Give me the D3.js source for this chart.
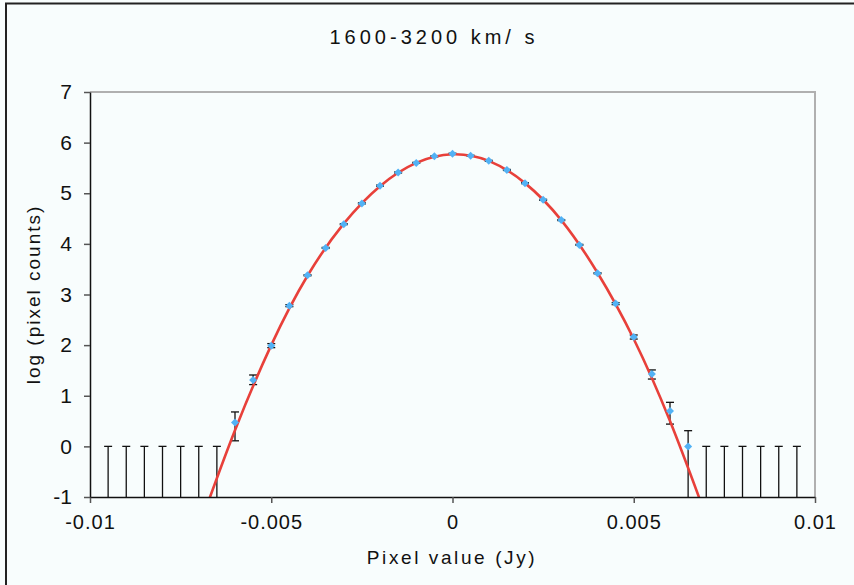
<!DOCTYPE html>
<html>
<head>
<meta charset="utf-8">
<script src="https://cdn.jsdelivr.net/npm/d3@7"></script>
<style>
  body { margin: 0; background: #f8fdfd; }
  text { font-family: "Liberation Sans", Arial, sans-serif; fill: #111; }
</style>
</head>
<body>
<div id="chart"></div>
<script>
// measured bins (pixel value, Jy) and log10 counts
var binX = [-0.006, -0.0055, -0.005, -0.0045, -0.004, -0.0035, -0.003, -0.0025, -0.002, -0.0015, -0.001, -0.0005,
  0, 0.0005, 0.001, 0.0015, 0.002, 0.0025, 0.003, 0.0035, 0.004, 0.0045, 0.005, 0.0055, 0.006, 0.0065];
var logCounts = [0.47, 1.31, 1.99, 2.78, 3.38, 3.92, 4.39, 4.80, 5.15, 5.41, 5.60, 5.73,
  5.78, 5.74, 5.64, 5.46, 5.20, 4.87, 4.47, 3.98, 3.42, 2.82, 2.16, 1.43, 0.70, 0.00];
var errUp = [0.21, 0.10, 0.04, 0.02, 0.01, 0.01, 0.01, 0.01, 0.01, 0.01, 0.01, 0.01,
  0.01, 0.01, 0.01, 0.01, 0.01, 0.01, 0.01, 0.01, 0.01, 0.02, 0.04, 0.08, 0.17, 0.31];
var errDown = [0.36, 0.09, 0.04, 0.02, 0.01, 0.01, 0.01, 0.01, 0.01, 0.01, 0.01, 0.01,
  0.01, 0.01, 0.01, 0.01, 0.01, 0.01, 0.01, 0.01, 0.01, 0.02, 0.04, 0.10, 0.26, 3];

// empty bins: only an error bar hanging down from log(1) = 0
var emptyX = [-0.0095, -0.009, -0.0085, -0.008, -0.0075, -0.007, -0.0065,
  0.007, 0.0075, 0.008, 0.0085, 0.009, 0.0095];

// gaussian fit
var fitX = [-0.0068, -0.006, -0.005, -0.004, -0.003, -0.002, -0.001, 0, 0.001, 0.002, 0.003, 0.004, 0.005, 0.006, 0.0069];
var fitY = [-1.22, 0.32, 2.0, 3.37, 4.4, 5.14, 5.6, 5.77, 5.64, 5.2, 4.47, 3.43, 2.12, 0.5, -1.2];

var xTicks = [-0.01, -0.005, 0, 0.005, 0.01];
var yTicks = [-1, 0, 1, 2, 3, 4, 5, 6, 7];

var width = 854, height = 585;
var plot = { left: 90, right: 815, top: 92, bottom: 497 };

var svg = d3.select('#chart').append('svg')
  .attr('width', width)
  .attr('height', height);

svg.append('rect').attr('width', width).attr('height', height).attr('fill', '#f8fdfd');

// outer frame (only left and top edges show)
svg.append('path')
  .attr('d', 'M6,' + (height + 5) + 'V3.5H' + (width + 5))
  .attr('fill', 'none')
  .attr('stroke', '#222')
  .attr('stroke-width', 2);

var x = d3.scaleLinear().domain([-0.01, 0.01]).range([plot.left, plot.right]);
var y = d3.scaleLinear().domain([-1, 7]).range([plot.bottom, plot.top]);

svg.append('defs').append('clipPath').attr('id', 'clip')
  .append('rect')
  .attr('x', plot.left).attr('y', plot.top)
  .attr('width', plot.right - plot.left).attr('height', plot.bottom - plot.top);

// grey top / right border
svg.append('path')
  .attr('d', 'M' + plot.left + ',' + plot.top + 'H' + plot.right + 'V' + plot.bottom)
  .attr('fill', 'none')
  .attr('stroke', '#b0b0b0')
  .attr('stroke-width', 2);

var g = svg.append('g').attr('clip-path', 'url(#clip)');

// empty bins
emptyX.forEach(function(v) {
  g.append('line')
    .attr('x1', x(v)).attr('x2', x(v))
    .attr('y1', y(0)).attr('y2', plot.bottom + 2)
    .attr('stroke', '#111').attr('stroke-width', 1.3);
  g.append('line')
    .attr('x1', x(v) - 4).attr('x2', x(v) + 4)
    .attr('y1', y(0)).attr('y2', y(0))
    .attr('stroke', '#111').attr('stroke-width', 1.3);
});

// error bars for measured bins
binX.forEach(function(v, i) {
  var hi = logCounts[i] + errUp[i], lo = logCounts[i] - errDown[i];
  g.append('line')
    .attr('x1', x(v)).attr('x2', x(v))
    .attr('y1', y(hi)).attr('y2', y(lo))
    .attr('stroke', '#111').attr('stroke-width', 1.3);
  [hi, lo].forEach(function(c) {
    g.append('line')
      .attr('x1', x(v) - 4).attr('x2', x(v) + 4)
      .attr('y1', y(c)).attr('y2', y(c))
      .attr('stroke', '#111').attr('stroke-width', 1.3);
  });
});

// fit curve
var fitData = fitX.map(function(v, i) { return [v, fitY[i]]; });
g.append('path')
  .datum(fitData)
  .attr('fill', 'none')
  .attr('stroke', '#e8403a')
  .attr('stroke-width', 2.6)
  .attr('d', d3.line()
    .x(function(d) { return x(d[0]); })
    .y(function(d) { return y(d[1]); })
    .curve(d3.curveNatural));

// markers
var diamond = d3.symbol().type(d3.symbolSquare).size(32);
g.selectAll('.pt')
  .data(binX)
  .enter()
  .append('path')
  .attr('class', 'pt')
  .attr('d', diamond)
  .attr('fill', '#52b2f5')
  .attr('transform', function(d, i) {
    return 'translate(' + x(d) + ',' + y(logCounts[i]) + ') rotate(45)';
  });

// axes
var xAxis = svg.append('g')
  .attr('transform', 'translate(0,' + plot.bottom + ')')
  .call(d3.axisBottom(x).tickValues(xTicks).tickSize(6).tickSizeOuter(0).tickPadding(12)
    .tickFormat(function(d) { return String(d); }));
xAxis.select('.domain').attr('stroke', '#111').attr('stroke-width', 1.5);
xAxis.selectAll('.tick line').attr('stroke', '#555').attr('stroke-width', 1.5);
xAxis.selectAll('.tick text')
  .style('font-size', '20px')
  .style('letter-spacing', '1px')
  .style('font-family', '"Liberation Sans", Arial, sans-serif')
  .attr('fill', '#111');

var yAxis = svg.append('g')
  .attr('transform', 'translate(' + plot.left + ',0)')
  .call(d3.axisLeft(y).tickValues(yTicks).tickSize(6).tickSizeOuter(0).tickPadding(12)
    .tickFormat(function(d) { return String(d); }));
yAxis.select('.domain').attr('stroke', '#111').attr('stroke-width', 1.5);
yAxis.selectAll('.tick line').attr('stroke', '#555').attr('stroke-width', 1.5);
yAxis.selectAll('.tick text')
  .style('font-size', '21px')
  .style('font-family', '"Liberation Sans", Arial, sans-serif')
  .attr('fill', '#111');

// titles
svg.append('text')
  .attr('x', 434).attr('y', 44)
  .attr('text-anchor', 'middle')
  .style('font-size', '20px')
  .style('letter-spacing', '4px')
  .text('1600-3200 km/ s');

svg.append('text')
  .attr('x', 452).attr('y', 564)
  .attr('text-anchor', 'middle')
  .style('font-size', '19px')
  .style('letter-spacing', '2.6px')
  .text('Pixel value (Jy)');

svg.append('text')
  .attr('transform', 'translate(40,' + ((plot.top + plot.bottom) / 2) + ') rotate(-90)')
  .attr('text-anchor', 'middle')
  .style('font-size', '19px')
  .style('letter-spacing', '2px')
  .text('log (pixel counts)');
</script>
</body>
</html>
